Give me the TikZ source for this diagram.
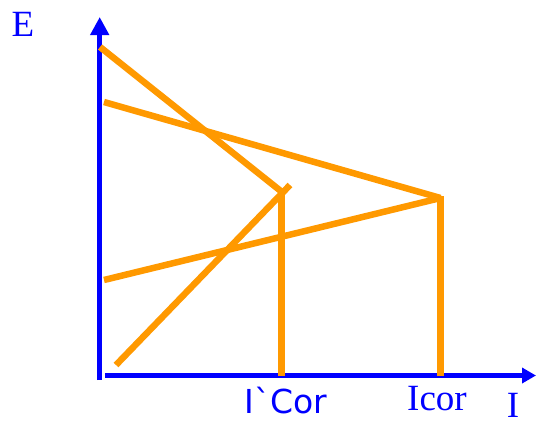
\documentclass[tikz,border=0pt]{standalone}
\usepackage{fontspec}
\setmainfont{Liberation Serif}
\newfontfamily\labelsans{DejaVu Sans}
\usetikzlibrary{arrows.meta}
\definecolor{axisblue}{RGB}{0,0,255}
\definecolor{lineorange}{RGB}{255,153,0}

\begin{document}
\begin{tikzpicture}[
    x=1pt,
    y=-1pt,
    axis/.style={line width=5.5pt,axisblue},
    curve/.style={line width=6.5pt,lineorange},
    every node/.style={font=\fontsize{37}{37}\selectfont,text=axisblue}
]
\useasboundingbox (0,0) rectangle (536,424);

% Axes
\coordinate (O) at (99.7,380);
\coordinate (ytip) at (99.7,17);
\coordinate (xstart) at (105,375.5);
\coordinate (xtip) at (536,375.5);
\draw[axis,-{Triangle[width=18pt,length=18pt]}] (O) -- (ytip);
\draw[axis,line width=4.5pt,-{Triangle[width=15pt,length=14pt]}] (xstart) -- (xtip);
\node (E) at (23,24) {E};
\node[inner sep=0pt] (I) at (513,405) {I};

% Key points
\coordinate (A) at (100,47);
\coordinate (B) at (282,192);
\coordinate (C) at (104,102);
\coordinate (D) at (440.5,198);
\coordinate (F) at (104,280);
\coordinate (G) at (116,365);
\coordinate (H) at (290,185);

% Lines
\draw[curve] (A) -- (B);
\draw[curve] (C) -- (D);
\draw[curve] (F) -- (D);
\draw[curve] (G) -- (H);

% Drop lines
\draw[curve] (281.5,188) -- (281.5,376);
\draw[curve] (440.5,196) -- (440.5,376);

% Labels
\node[font=\labelsans\fontsize{33}{33}\selectfont] (Ip) at (286,401) {I`Cor};
\node (Ic) at (437,399) {Icor};

\end{tikzpicture}
\end{document}
